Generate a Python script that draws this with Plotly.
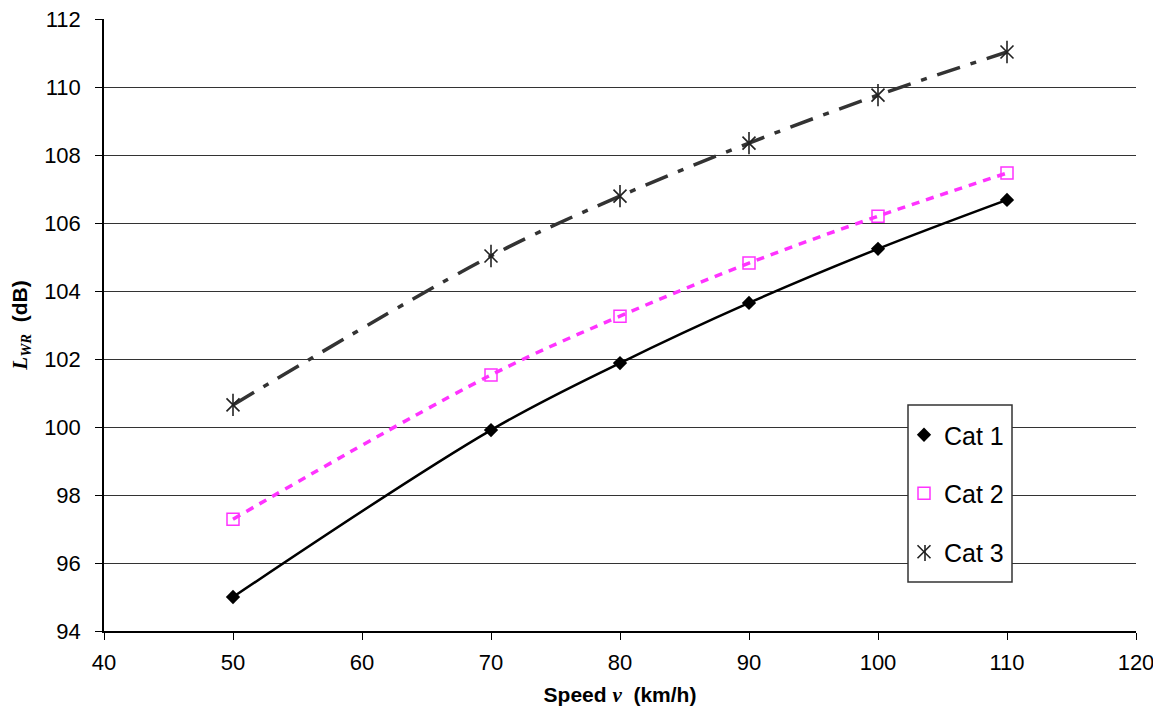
import plotly.graph_objects as go

speed = [50, 70, 80, 90, 100, 110]
cat1 = [95.0, 99.91, 101.88, 103.65, 105.24, 106.68]
cat2 = [97.29, 101.53, 103.26, 104.82, 106.2, 107.47]
cat3 = [100.65, 105.03, 106.79, 108.35, 109.76, 111.03]
names = ["Cat 1", "Cat 2", "Cat 3"]
x_ticks = [40, 50, 60, 70, 80, 90, 100, 110, 120]
y_ticks = [94, 96, 98, 100, 102, 104, 106, 108, 110, 112]

FONT = "Liberation Sans, Arial"
STAR = "#222222"
styles = [
    dict(line=dict(color="black", width=2.5, shape="spline"),
         marker=dict(symbol="diamond", size=11, color="black")),
    dict(line=dict(color="#ff33ff", width=3.5, dash="8px,7px", shape="spline"),
         marker=dict(symbol="square-open", size=12, color="#ff33ff",
                     line=dict(width=1.5, color="#ff33ff"))),
    dict(line=dict(color="#333333", width=3.5, dash="24px,11px,6px,11px", shape="spline"),
         marker=dict(symbol="x-thin-open", size=13, color=STAR,
                     line=dict(width=1.6, color=STAR))),
]
series = [cat1, cat2, cat3]

fig = go.Figure()
for name, ys, st in zip(names, series, styles):
    fig.add_trace(go.Scatter(x=speed, y=ys, name=name, mode="lines+markers",
                             line=st["line"], marker=st["marker"], showlegend=False))
# vertical stroke completing the 6-arm star of Cat 3
fig.add_trace(go.Scatter(x=speed, y=cat3, mode="markers", showlegend=False,
                         marker=dict(symbol="line-ns-open", size=16, color=STAR,
                                     line=dict(width=1.6, color=STAR))))
for i, (name, st) in enumerate(zip(names, styles)):
    fig.add_trace(go.Scatter(x=[None], y=[None], name=name, mode="markers",
                             marker=st["marker"], legendgroup=f"g{i}", showlegend=True))

# legend frame (white box); pixel helpers relative to the plot area
TOP, BOTTOM = 19, 631
px_x = lambda p: (p - 104) / 1032
px_y = lambda p: (BOTTOM - p) / 612
fig.add_shape(type="rect", xref="paper", yref="paper",
              x0=px_x(908), x1=px_x(1012), y0=px_y(582), y1=px_y(405),
              fillcolor="white", line=dict(color="#333", width=1.5), layer="above")
fig.add_shape(type="line", xref="paper", yref="paper",
              x0=px_x(925), x1=px_x(925), y0=px_y(545), y1=px_y(561),
              line=dict(color=STAR, width=1.6), layer="above")

axis_font = dict(family=FONT, size=22, color="black")
fig.update_layout(
    width=1145, height=699,
    margin=dict(l=96, r=17, t=11, b=76, autoexpand=False),
    plot_bgcolor="white", paper_bgcolor="white",
    font=dict(family=FONT, color="black"),
    showlegend=True,
    legend=dict(x=px_x(904), y=px_y(412), xanchor="left", yanchor="top",
                bgcolor="rgba(0,0,0,0)", borderwidth=0,
                font=dict(size=25, family=FONT),
                tracegroupgap=23, itemwidth=30),
    xaxis=dict(range=[40, 120], tickvals=x_ticks, showgrid=False,
               showline=True, linecolor="black", linewidth=1.5,
               ticks="outside", ticklen=7, tickcolor="black",
               tickfont=axis_font, zeroline=False, ticklabeloverflow="allow",
               ticklabelstandoff=4,
               title=dict(text="<b>Speed <span style='font-family:Liberation Serif'><i>v</i></span>  (km/h)</b>",
                          font=dict(size=21, family=FONT), standoff=21)),
    yaxis=dict(range=[94, 112], tickvals=y_ticks, showgrid=True,
               gridcolor="#333", gridwidth=1,
               showline=True, linecolor="black", linewidth=1.5,
               ticks="outside", ticklen=7, tickcolor="black",
               tickfont=axis_font, zeroline=False, ticklabeloverflow="allow",
               ticklabelstandoff=10,
               title=dict(text="<span style='font-family:Liberation Serif'><b><i>L<sub>WR</sub></i></b></span><b>  (dB)</b>",
                          font=dict(size=21, family=FONT), standoff=12)),
)
fig.write_html("out.html")
